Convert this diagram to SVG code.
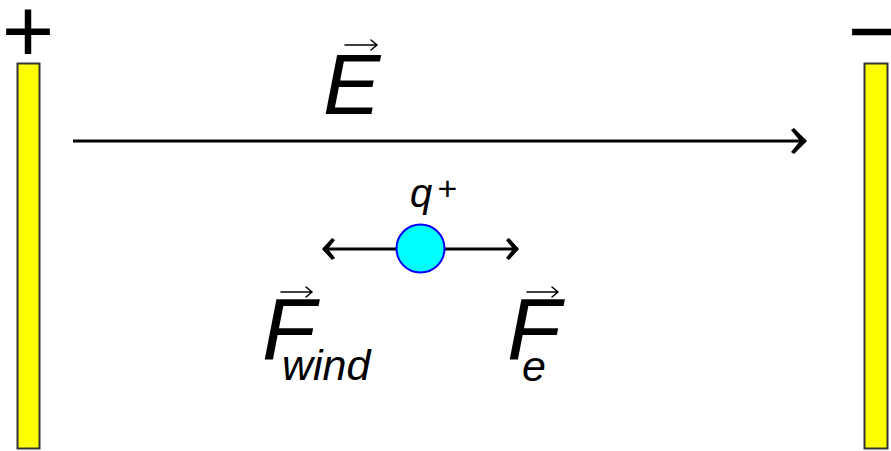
<svg xmlns="http://www.w3.org/2000/svg" width="891" height="451" viewBox="0 0 891 451">
<style>
.plate{fill:#ffff00;stroke:#333333;stroke-width:2}
.sign{font-family:"Liberation Sans",Arial,sans-serif;font-size:90px;fill:#000;text-anchor:middle}
.lbl{font-family:"Liberation Sans",Arial,sans-serif;font-style:italic;fill:#000}
.vec{fill:none;stroke:#000;stroke-width:1.5;stroke-linecap:round}
.line{fill:none;stroke:#000;stroke-width:3}
</style>
<defs>
<marker id="ahBig" viewBox="0 0 16 26" refX="15" refY="13" markerWidth="16" markerHeight="26" markerUnits="userSpaceOnUse" orient="auto-start-reverse">
<path d="M0,2 L3,0 L16,13 L3,26 L0,24 L9,13 Z" fill="#000"/>
</marker>
<marker id="ahSmall" viewBox="0 0 13 22" refX="12" refY="11" markerWidth="13" markerHeight="22" markerUnits="userSpaceOnUse" orient="auto-start-reverse">
<path d="M0,2 L3,0 L13,11 L3,22 L0,20 L7,11 Z" fill="#000"/>
</marker>
</defs>
<g id="plate-pos">
<rect class="plate" x="17.5" y="63.5" width="22" height="385"/>
<text class="sign" x="28" y="62">+</text>
</g>
<g id="plate-neg">
<rect class="plate" x="864.5" y="63.5" width="23" height="385"/>
<text class="sign" x="874" y="62">−</text>
</g>
<g id="field-label">
<text class="lbl" x="323" y="114" font-size="86">E</text>
<path class="vec" d="M345,45 H377 M371,40 L377,45 L371,50"/>
</g>
<g id="connectors">
<line class="line" x1="73" y1="141" x2="806" y2="141" marker-end="url(#ahBig)"/>
<line class="line" x1="323" y1="249" x2="518" y2="249" marker-start="url(#ahSmall)" marker-end="url(#ahSmall)"/>
</g>
<g id="charge">
<circle cx="420.5" cy="248.5" r="24" fill="#00ffff" stroke="#0000ff" stroke-width="2"/>
<text class="lbl" x="410" y="207" font-size="40">q</text>
<text class="lbl" x="437" y="200" font-size="34" font-style="normal">+</text>
</g>
<g id="f-wind">
<text class="lbl" x="262" y="359" font-size="88">F</text>
<text class="lbl" x="282" y="380" font-size="43">wind</text>
<path class="vec" d="M281,292 H312 M306,287 L312,292 L306,297"/>
</g>
<g id="f-e">
<text class="lbl" x="507" y="359" font-size="88">F</text>
<text class="lbl" x="522" y="381" font-size="43">e</text>
<path class="vec" d="M527,292 H558 M552,287 L558,292 L552,297"/>
</g>
</svg>
